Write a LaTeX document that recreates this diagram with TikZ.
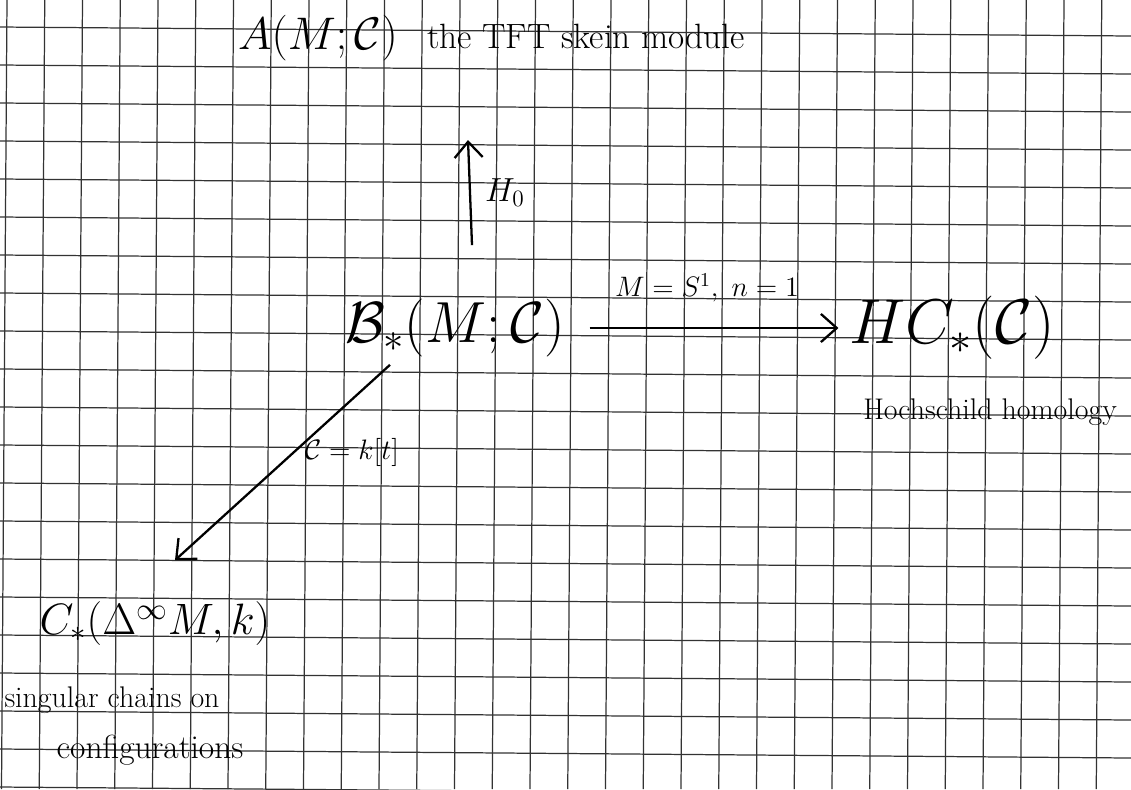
\RequirePackage{fix-cm}
\documentclass[tikz,border=0pt]{standalone}
\usepackage{amsmath,amssymb}
\usetikzlibrary{arrows.meta,calc}

\begin{document}
\begin{tikzpicture}[x=0.02cm,y=-0.02cm,
  gridline/.style={black!80,line width=0.7pt},
  bigtext/.style={inner sep=2pt,font=\fontsize{#1}{#1}\selectfont},
  smalltext/.style={inner sep=1pt,font=\fontsize{#1}{#1}\selectfont},
  hand/.style={line width=1.3pt,-{Straight Barb[length=9pt,width=16pt,line width=1.3pt]}},
  lbl/.style={inner sep=2pt,font=\fontsize{#1}{#1}\selectfont}]
\clip (0,0) rectangle (1131,789);
\fill[white] (0,0) rectangle (1131,789);
% the squared paper, slightly turned
\foreach \i in {0,...,29}
  \draw[gridline] ({7+37.75*\i},0) -- ({1.5+37.75*\i},789);
\foreach \j in {0,...,20}
  \draw[gridline] (0,{27+38*\j}) -- (1131,{36+38*\j});
% objects
\node[bigtext=26] (A) at (318,38) {$A(M;\mathcal{C})$};
\node[smalltext=20,anchor=west] (skein) at (425,36) {the TFT skein module};
\node[bigtext=33] (B) at (455,328) {$\mathcal{B}_*(M;\mathcal{C})$};
\node[bigtext=36] (HC) at (952,328) {$HC_*(\mathcal{C})$};
\node[smalltext=17] (hoch) at (990,412) {Hochschild homology};
\node[bigtext=25] (C) at (155,624) {$C_*(\Delta^{\infty}M,k)$};
\node[smalltext=17] (sing) at (112,700) {singular chains on};
\node[smalltext=19] (conf) at (150,750) {configurations};
% maps
\coordinate (Htop) at (468,140);
\draw[hand] ($(B.north -| Htop)+(4,0)$) ++(0,-50) -- (Htop)
  node[lbl=19,right,midway,xshift=6pt] (H0) {$H_0$};
\draw[hand,shorten <=12pt,shorten >=4pt] (B.east) -- (HC.west)
  node[lbl=16,above=12pt,midway] (circ) {$M=S^1,\ n=1$};
\draw[hand] ($(B.south)+(-65,4)$) -- ($(C.north)+(20,-38)$)
  node[lbl=16,right,pos=0.45,xshift=4pt] (poly) {$\mathcal{C}=k[t]$};
\end{tikzpicture}
\end{document}
